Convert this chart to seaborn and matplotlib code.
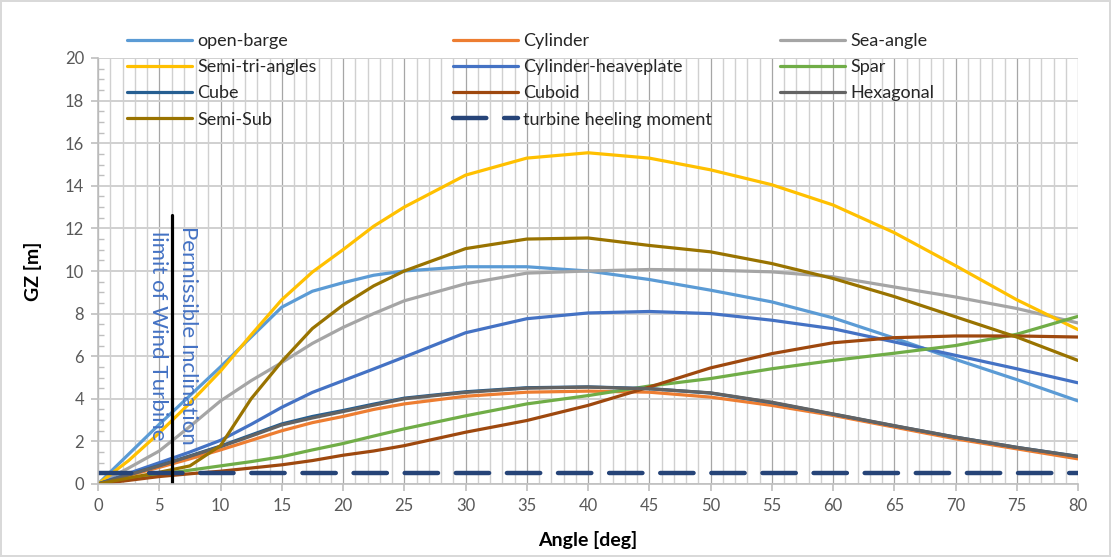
import pandas as pd
import matplotlib.pyplot as plt
import seaborn as sns
from matplotlib.ticker import MultipleLocator

# GZ curves (angle in deg, GZ in m)
angles = [0, 2.5, 5, 7.5, 10, 12.5, 15, 17.5, 20, 22.5, 25,
          30, 35, 40, 45, 50, 55, 60, 65, 70, 75, 80]

open_barge = [0, 1.4, 2.8, 4.15, 5.5, 6.9, 8.3, 9.05, 9.45, 9.8, 10.0,
              10.2, 10.2, 10.0, 9.6, 9.1, 8.55, 7.8, 6.85, 5.85, 4.9, 3.9]
cylinder = [0, 0.4, 0.78, 1.18, 1.6, 2.05, 2.5, 2.88, 3.17, 3.5, 3.76,
            4.12, 4.31, 4.36, 4.31, 4.08, 3.69, 3.22, 2.67, 2.12, 1.65, 1.18]
sea_angle = [0, 0.75, 1.55, 2.7, 3.9, 4.85, 5.7, 6.6, 7.35, 8.0, 8.6,
             9.4, 9.9, 10.0, 10.07, 10.04, 9.96, 9.73, 9.25, 8.78, 8.24, 7.56]
semi_tri = [0, 1.1, 2.4, 3.8, 5.3, 7.0, 8.65, 9.95, 11.0, 12.1, 13.0,
            14.5, 15.3, 15.55, 15.3, 14.75, 14.05, 13.1, 11.8, 10.25, 8.65, 7.25]
cyl_heave = [0, 0.5, 1.0, 1.5, 2.05, 2.8, 3.6, 4.3, 4.85, 5.4, 5.96,
             7.1, 7.76, 8.03, 8.1, 8.0, 7.69, 7.29, 6.67, 6.04, 5.41, 4.75]
spar = [0, 0.22, 0.45, 0.65, 0.85, 1.05, 1.28, 1.6, 1.9, 2.25, 2.59,
        3.2, 3.76, 4.15, 4.6, 4.95, 5.41, 5.8, 6.14, 6.5, 7.03, 7.87]
cube = [0, 0.44, 0.87, 1.32, 1.78, 2.3, 2.82, 3.17, 3.45, 3.75, 4.03,
        4.33, 4.52, 4.56, 4.48, 4.27, 3.82, 3.28, 2.73, 2.2, 1.72, 1.3]
cuboid = [0, 0.17, 0.35, 0.48, 0.6, 0.75, 0.9, 1.1, 1.35, 1.55, 1.8,
          2.43, 2.98, 3.69, 4.55, 5.45, 6.12, 6.63, 6.87, 6.95, 6.95, 6.9]
hexagonal = [0, 0.43, 0.85, 1.3, 1.75, 2.25, 2.77, 3.1, 3.4, 3.7, 4.0,
             4.3, 4.5, 4.55, 4.47, 4.28, 3.84, 3.29, 2.74, 2.2, 1.72, 1.29]
semi_sub = [0, 0.28, 0.55, 0.85, 1.8, 4.0, 5.75, 7.3, 8.4, 9.3, 10.0,
            11.05, 11.5, 11.55, 11.2, 10.9, 10.35, 9.65, 8.8, 7.85, 6.9, 5.8]

heel_angles = [0, 80]
heel_moment = [0.5, 0.5]

limit_angle = 6
limit_gz = 12.65

names = ['open-barge', 'Cylinder', 'Sea-angle', 'Semi-tri-angles',
         'Cylinder-heaveplate', 'Spar', 'Cube', 'Cuboid', 'Hexagonal', 'Semi-Sub']
series = [open_barge, cylinder, sea_angle, semi_tri, cyl_heave,
          spar, cube, cuboid, hexagonal, semi_sub]
colors = ['#5B9BD5', '#ED7D31', '#A5A5A5', '#FFC000', '#4472C4',
          '#70AD47', '#255E91', '#9E480E', '#636363', '#997300']

rows = []
for name, vals in zip(names, series):
    for a, v in zip(angles, vals):
        rows.append({'Angle': a, 'GZ': v, 'Model': name})
df = pd.DataFrame(rows)
heel = pd.DataFrame({'Angle': heel_angles, 'GZ': heel_moment})

sns.set_theme(style='white')
plt.rcParams['font.family'] = ['Lato', 'DejaVu Sans']

fig = plt.figure(figsize=(11.11, 5.57), dpi=100)
fig.patch.set_edgecolor('#D9D9D9')
fig.patch.set_linewidth(1.5)
ax = fig.add_axes([98 / 1111, 1 - 484 / 557, 980 / 1111, 426 / 557])

sns.lineplot(data=df, x='Angle', y='GZ', hue='Model', hue_order=names,
             palette=dict(zip(names, colors)), linewidth=2.3, ax=ax,
             sort=False, estimator=None)
sns.lineplot(data=heel, x='Angle', y='GZ', color='#264478', linewidth=3.2,
             label='turbine heeling moment', ax=ax,
             dashes=False)
heel_line = ax.lines[-1]
heel_line.set_dashes([7.5, 4])
heel_line.set_dash_capstyle('round')

# permissible inclination marker
ax.plot([limit_angle, limit_angle], [0, limit_gz], color='black', lw=2.3)
ax.text(limit_angle + 0.1, 12.1, 'Permissible Inclination\nlimit of Wind Turbine',
        rotation=-90, ha='center', va='top', color='#4472C4', fontsize=16,
        linespacing=1.6)

ax.set_xlim(0, 80)
ax.set_ylim(0, 20)
ax.xaxis.set_major_locator(MultipleLocator(5))
ax.xaxis.set_minor_locator(MultipleLocator(1))
ax.yaxis.set_major_locator(MultipleLocator(2))
ax.yaxis.set_minor_locator(MultipleLocator(0.5))
ax.grid(which='major', axis='x', color='#A6A6A6', lw=0.9)
ax.grid(which='minor', axis='x', color='#D0D0D0', lw=1.0)
ax.grid(which='major', axis='y', color='#D0D0D0', lw=1.4)
ax.set_axisbelow(True)
for s in ['top', 'right']:
    ax.spines[s].set_visible(False)
for s in ['left', 'bottom']:
    ax.spines[s].set_color('#BFBFBF')
    ax.spines[s].set_linewidth(1.2)
ax.tick_params(axis='both', which='major', labelsize=12, labelcolor='#595959',
               color='#BFBFBF', length=5, width=1.2, direction='out', pad=5,
               bottom=True, left=True)
ax.tick_params(axis='y', which='minor', color='#BFBFBF', length=4, width=1,
               direction='in', left=True)
ax.tick_params(axis='x', which='minor', length=0)

ax.set_xlabel('Angle [deg]', fontsize=14, fontweight='bold', color='black')
ax.set_ylabel('GZ [m]', fontsize=14, fontweight='bold', color='black')
ax.xaxis.set_label_coords(0.5, -0.11)
ax.yaxis.set_label_coords(-0.057, 0.5)

handles, labels = ax.get_legend_handles_labels()
ax.get_legend().remove()
lookup = dict(zip(labels, handles))
columns = [['open-barge', 'Semi-tri-angles', 'Cube', 'Semi-Sub'],
           ['Cylinder', 'Cylinder-heaveplate', 'Cuboid', 'turbine heeling moment'],
           ['Sea-angle', 'Spar', 'Hexagonal']]
col_x = [127 / 1111, 453 / 1111, 780 / 1111]
for cx, col in zip(col_x, columns):
    fig.legend([lookup[c] for c in col], col, loc='upper left',
               bbox_to_anchor=(cx, 1 - 33 / 557), frameon=False,
               fontsize=13, handlelength=3.6, handletextpad=0.3,
               labelspacing=0.565, borderpad=0, borderaxespad=0)

fig.savefig('out.png', dpi=100)
